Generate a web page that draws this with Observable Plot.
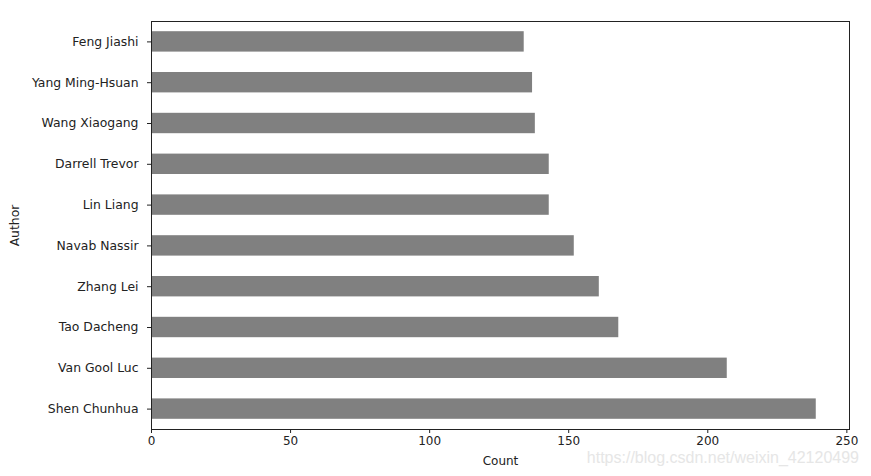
<!DOCTYPE html>
<html>
<head>
<meta charset="utf-8">
<script src="https://cdn.jsdelivr.net/npm/d3@7"></script>
<script src="https://cdn.jsdelivr.net/npm/@observablehq/plot@0.6"></script>
<style>
  html, body { margin: 0; padding: 0; background: #fff; }
  #wrap { position: relative; width: 871px; height: 476px; }
  #wm { position: absolute; right: 12px; bottom: 9px; font-family: Arial, "Liberation Sans", sans-serif; font-size: 16px; color: #e6e6e6; z-index: 2; }
</style>
</head>
<body>
<div id="wrap"><div id="wm">https://blog.csdn.net/weixin_42120499</div></div>
<script>
const authors = ["Feng Jiashi", "Yang Ming-Hsuan", "Wang Xiaogang", "Darrell Trevor", "Lin Liang", "Navab Nassir", "Zhang Lei", "Tao Dacheng", "Van Gool Luc", "Shen Chunhua"];
const counts = [134, 137, 138, 143, 143, 152, 161, 168, 207, 239];
const xTicks = [0, 50, 100, 150, 200, 250];

const data = authors.map((a, i) => ({author: a, count: counts[i]}));

const chart = Plot.plot({
  width: 871,
  height: 476,
  marginLeft: 151,
  marginRight: 22,
  marginTop: 21,
  marginBottom: 47,
  style: {fontFamily: "'DejaVu Sans', sans-serif", fontSize: "12px", color: "#222", background: "#fff"},
  x: {domain: [0, d3.max(counts) * 1.05], ticks: xTicks},
  y: {domain: authors, paddingInner: 0.5, paddingOuter: 0.25, round: false},
  marks: [
    Plot.barX(data, {x: "count", y: "author", fill: "#808080"}),
    Plot.frame({stroke: "#222", strokeWidth: 1}),
    Plot.axisX({ticks: xTicks, tickSize: 4, tickPadding: 3, fontSize: 12, label: "Count", labelAnchor: "center", labelArrow: "none", labelOffset: 35}),
    Plot.axisY({tickSize: 4, tickPadding: 9, fontSize: 12.4, label: "Author", labelAnchor: "center", labelOffset: 141})
  ]
});
document.getElementById("wrap").prepend(chart);
chart.style.position = "absolute";
chart.style.left = "0";
chart.style.top = "0";
</script>
</body>
</html>
